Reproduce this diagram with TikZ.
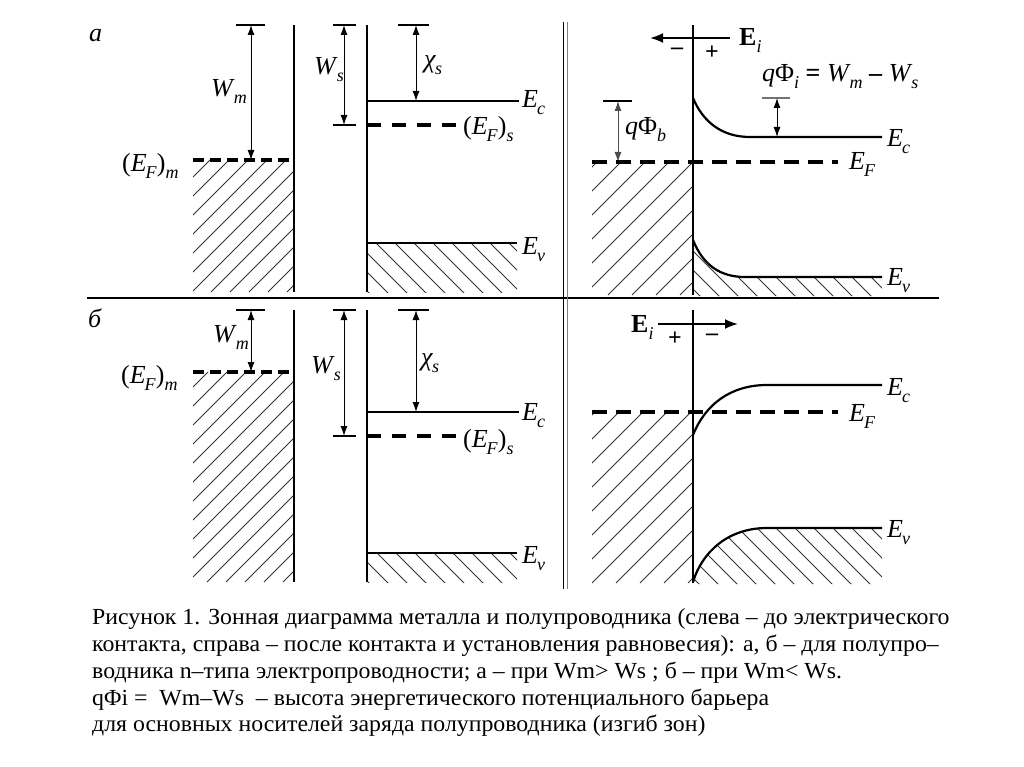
\documentclass[tikz,border=0pt]{standalone}
\usepackage{fontspec}
\setmainfont{Liberation Serif}
\usetikzlibrary{arrows.meta}
\newcommand{\sbs}[1]{\raisebox{-7pt}{\fontsize{18}{18}\selectfont\textit{#1}}}
\newcommand{\lab}[2]{\textit{#1}\kern-1pt\sbs{#2}}
\newcommand{\efl}[1]{(\textit{E}\kern-1pt\sbs{F})\sbs{#1}}
\tikzset{
  band/.style={line width=2.2pt},
  wall/.style={line width=2.6pt},
  fermi/.style={line width=3.2pt, dash pattern=on 11pt off 6pt},
  fermis/.style={line width=3.4pt, dash pattern=on 14pt off 11pt},
  fermir/.style={line width=3.4pt, dash pattern=on 15pt off 9pt},
  tick/.style={line width=1.8pt},
  gtick/.style={line width=1.8pt, black!55},
  dim/.style={line width=1pt, {Latex[length=10pt,width=7pt]}-{Latex[length=10pt,width=7pt]}},
  dimg/.style={line width=1pt, black!70, {Latex[length=10pt,width=7pt]}-{Latex[length=10pt,width=7pt]}},
  field/.style={line width=2pt, -{Latex[length=13pt,width=10pt]}},
  hatch/.style={line width=0.8pt, black!80},
  lbl/.style={font=\fontsize{26}{28}\selectfont, inner sep=0pt, anchor=base west},
  sgn/.style={font=\fontsize{24}{26}\selectfont\bfseries, inner sep=0pt},
  captxt/.style={font=\fontsize{23}{25}\selectfont, inner sep=0pt, anchor=base west},
}
\begin{document}
\begin{tikzpicture}[x=1pt, y=-1pt]
\useasboundingbox (0,0) rectangle (1024,767);

% ---------------- separators
\coordinate (sepL) at (87,298);
\coordinate (sepR) at (939,298);
\draw[line width=1.6pt] (sepL) -- (sepR);
\coordinate (dv1t) at (563.5,22); \coordinate (dv1b) at (563.5,589);
\coordinate (dv2t) at (567.5,22); \coordinate (dv2b) at (567.5,589);
\draw[line width=1.6pt] (dv1t) -- (dv1b);
\draw[line width=1.3pt, black!50] (dv2t) -- (dv2b);

% ================= TOP LEFT (a)
\node[lbl, font=\fontsize{26}{28}\selectfont\itshape] (la) at (89,42) {а};
\begin{scope}
\clip (193,160) rectangle (294,292);
\foreach \x in {40,59,...,300} \draw[hatch] (\x,292) -- ++(150,-150);
\end{scope}
\begin{scope}
\clip (367,243) rectangle (517,292);
\foreach \x in {300,319,...,520} \draw[hatch] (\x,243) -- ++(60,60);
\end{scope}
\coordinate (mAt) at (294,25); \coordinate (mAb) at (294,292);
\draw[wall] (mAt) -- (mAb);
\coordinate (sAt) at (367,25); \coordinate (sAb) at (367,292);
\draw[wall] (sAt) -- (sAb);
% Wm
\coordinate (wmA1) at (236,25); \coordinate (wmA2) at (265,25);
\draw[tick] (wmA1) -- (wmA2);
\coordinate (wmAt) at (251,25); \coordinate (wmAb) at (251,160);
\draw[dim] (wmAt) -- (wmAb);
\node[lbl] (WmA) at (211,97) {\lab{W}{m}};
% EF m
\coordinate (efmA1) at (193,160); \coordinate (efmA2) at (294,160);
\draw[fermi] (efmA1) -- (efmA2);
\node[lbl] (EFmA) at (122,172) {\efl{m}};
% Ws
\coordinate (wsA1) at (333,25); \coordinate (wsA2) at (356,25);
\coordinate (wsA3) at (333,125); \coordinate (wsA4) at (356,125);
\draw[tick] (wsA1) -- (wsA2); \draw[tick] (wsA3) -- (wsA4);
\coordinate (wsAt) at (344,25); \coordinate (wsAb) at (344,125);
\draw[dim] (wsAt) -- (wsAb);
\node[lbl] (WsA) at (314,75) {\lab{W}{s}};
% chi s
\coordinate (chA1) at (398,25); \coordinate (chA2) at (429,25);
\draw[tick] (chA1) -- (chA2);
\coordinate (chAt) at (416,25); \coordinate (chAb) at (416,101);
\draw[dim] (chAt) -- (chAb);
\node[lbl] (chiA) at (424,68) {\lab{χ}{s}};
% bands
\coordinate (ecA1) at (367,101); \coordinate (ecA2) at (519,101);
\draw[band] (ecA1) -- (ecA2);
\node[lbl] (EcA) at (522,108) {\lab{E}{c}};
\coordinate (efsA1) at (367,125); \coordinate (efsA2) at (460,125);
\draw[fermis] (efsA1) -- (efsA2);
\node[lbl] (EFsA) at (463,135) {\efl{s}};
\coordinate (evA1) at (367,243); \coordinate (evA2) at (517,243);
\draw[band] (evA1) -- (evA2);
\node[lbl] (EvA) at (522,254) {\lab{E}{v}};

% ================= TOP RIGHT
\begin{scope}
\clip (592,162) rectangle (693,295);
\foreach \x in {440,464,...,700} \draw[hatch] (\x,295) -- ++(160,-160);
\end{scope}
\begin{scope}
\clip (693,240) .. controls (703,265) and (720,277) .. (745,277) -- (882,277) -- (882,296) -- (693,296) -- cycle;
\foreach \x in {640,659,...,890} \draw[hatch] (\x,236) -- ++(70,70);
\end{scope}
\coordinate (iAt) at (693,25); \coordinate (iAb) at (693,295);
\draw[wall] (iAt) -- (iAb);
% field
\coordinate (fAs) at (730,38); \coordinate (fAe) at (650,38);
\draw[field] (fAs) -- (fAe);
\node[lbl] (EiA) at (739,46) {\textbf{E}\sbs{i}};
\node[sgn] (minA) at (677,51) {–};
\node[sgn] (plA) at (712,53) {+};
\node[lbl] (phiiA) at (762,82) {\textit{q}Φ\sbs{i} \textbf{=} \lab{W}{m} \textbf{–} \lab{W}{s}};
% Ec curve
\coordinate (ecR0) at (693,98); \coordinate (ecR1) at (750,137); \coordinate (ecR2) at (882,137);
\draw[band] (ecR0) .. controls (703,122) and (722,137) .. (ecR1) -- (ecR2);
\node[lbl] (EcR) at (887,147) {\lab{E}{c}};
% q Phi i
\coordinate (piA1) at (762,98); \coordinate (piA2) at (790,98);
\draw[gtick] (piA1) -- (piA2);
\coordinate (piAt) at (777,98); \coordinate (piAb) at (777,137);
\draw[dim] (piAt) -- (piAb);
% q Phi b
\coordinate (pbA1) at (603,101); \coordinate (pbA2) at (632,101);
\draw[tick] (pbA1) -- (pbA2);
\coordinate (pbAt) at (618,101); \coordinate (pbAb) at (618,162);
\draw[dimg] (pbAt) -- (pbAb);
\node[lbl] (phibA) at (625,135) {\textit{q}Φ\sbs{b}};
% EF
\coordinate (efR1) at (592,162); \coordinate (efR2) at (838,162);
\draw[fermir] (efR1) -- (efR2);
\node[lbl] (EFR) at (849,170) {\lab{E}{F}};
% Ev
\coordinate (evR0) at (693,240); \coordinate (evR1) at (745,277); \coordinate (evR2) at (882,277);
\draw[band] (evR0) .. controls (703,265) and (720,277) .. (evR1) -- (evR2);
\node[lbl] (EvR) at (887,285) {\lab{E}{v}};

% ================= BOTTOM LEFT (б)
\node[lbl, font=\fontsize{26}{28}\selectfont\itshape] (lb) at (88,327) {б};
\begin{scope}
\clip (193,372) rectangle (294,582);
\foreach \x in {-40,-21,...,300} \draw[hatch] (\x,582) -- ++(230,-230);
\end{scope}
\begin{scope}
\clip (367,553) rectangle (517,582);
\foreach \x in {320,339,...,520} \draw[hatch] (\x,553) -- ++(40,40);
\end{scope}
\coordinate (mBt) at (294,310); \coordinate (mBb) at (294,582);
\draw[wall] (mBt) -- (mBb);
\coordinate (sBt) at (367,310); \coordinate (sBb) at (367,582);
\draw[wall] (sBt) -- (sBb);
% Wm
\coordinate (wmB1) at (236,310); \coordinate (wmB2) at (265,310);
\draw[tick] (wmB1) -- (wmB2);
\coordinate (wmBt) at (251,310); \coordinate (wmBb) at (251,372);
\draw[dim] (wmBt) -- (wmBb);
\node[lbl] (WmB) at (213,342) {\lab{W}{m}};
\coordinate (efmB1) at (193,372); \coordinate (efmB2) at (294,372);
\draw[fermi] (efmB1) -- (efmB2);
\node[lbl] (EFmB) at (121,383) {\efl{m}};
% Ws
\coordinate (wsB1) at (333,310); \coordinate (wsB2) at (356,310);
\coordinate (wsB3) at (333,436); \coordinate (wsB4) at (356,436);
\draw[tick] (wsB1) -- (wsB2); \draw[tick] (wsB3) -- (wsB4);
\coordinate (wsBt) at (344,310); \coordinate (wsBb) at (344,436);
\draw[dim] (wsBt) -- (wsBb);
\node[lbl] (WsB) at (311,373) {\lab{W}{s}};
% chi
\coordinate (chB1) at (398,310); \coordinate (chB2) at (429,310);
\draw[tick] (chB1) -- (chB2);
\coordinate (chBt) at (416,310); \coordinate (chBb) at (416,412);
\draw[dim] (chBt) -- (chBb);
\node[lbl] (chiB) at (421,365) {\lab{χ}{s}};
% bands
\coordinate (ecB1) at (367,412); \coordinate (ecB2) at (519,412);
\draw[band] (ecB1) -- (ecB2);
\node[lbl] (EcB) at (522,420) {\lab{E}{c}};
\coordinate (efsB1) at (367,436); \coordinate (efsB2) at (460,436);
\draw[fermis] (efsB1) -- (efsB2);
\node[lbl] (EFsB) at (463,447) {\efl{s}};
\coordinate (evB1) at (367,553); \coordinate (evB2) at (517,553);
\draw[band] (evB1) -- (evB2);
\node[lbl] (EvB) at (522,563) {\lab{E}{v}};

% ================= BOTTOM RIGHT
\begin{scope}
\clip (592,412) rectangle (693,583);
\foreach \x in {400,424,...,700} \draw[hatch] (\x,583) -- ++(200,-200);
\end{scope}
\begin{scope}
\clip (693,582) .. controls (702,552) and (728,528) .. (767,528) -- (882,528) -- (882,584) -- (693,584) -- cycle;
\foreach \x in {640,659,...,890} \draw[hatch] (\x,525) -- ++(70,70);
\end{scope}
\coordinate (iBt) at (693,310); \coordinate (iBb) at (693,583);
\draw[wall] (iBt) -- (iBb);
\coordinate (fBs) at (658,324); \coordinate (fBe) at (738,324);
\draw[field] (fBs) -- (fBe);
\node[lbl] (EiB) at (631,332) {\textbf{E}\sbs{i}};
\node[sgn] (plB) at (675,339) {+};
\node[sgn] (minB) at (712,337) {–};
% Ec
\coordinate (ecS0) at (693,435); \coordinate (ecS1) at (767,385); \coordinate (ecS2) at (882,385);
\draw[band] (ecS0) .. controls (705,405) and (730,385) .. (ecS1) -- (ecS2);
\node[lbl] (EcS) at (887,395) {\lab{E}{c}};
% EF
\coordinate (efS1) at (592,412); \coordinate (efS2) at (838,412);
\draw[fermir] (efS1) -- (efS2);
\node[lbl] (EFS) at (849,421) {\lab{E}{F}};
% Ev
\coordinate (evS0) at (693,582); \coordinate (evS1) at (767,528); \coordinate (evS2) at (882,528);
\draw[band] (evS0) .. controls (702,552) and (728,528) .. (evS1) -- (evS2);
\node[lbl] (EvS) at (887,537) {\lab{E}{v}};

% ================= caption
\node[captxt] (c1) at (92,624) {\scalebox{1.035}[1]{Рисунок 1. Зонная диаграмма металла и полупроводника (слева – до электрического}};
\node[captxt] (c2) at (92,651) {\scalebox{1.035}[1]{контакта, справа – после контакта и установления равновесия): а, б – для полупро–}};
\node[captxt] (c3) at (92,678) {\scalebox{1.035}[1]{водника n–типа электропроводности; а – при Wm> Ws ; б – при Wm< Ws.}};
\node[captxt] (c4) at (92,705) {\scalebox{1.035}[1]{qΦi =\ \ Wm–Ws\ \ – высота энергетического потенциального барьера}};
\node[captxt] (c5) at (92,731) {\scalebox{1.035}[1]{для основных носителей заряда полупроводника (изгиб зон)}};
\end{tikzpicture}
\end{document}
